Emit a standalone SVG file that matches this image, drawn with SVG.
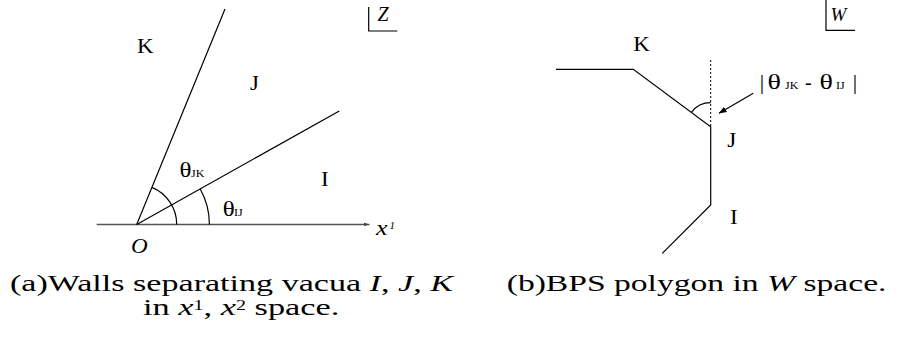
<svg xmlns="http://www.w3.org/2000/svg" width="900" height="348" viewBox="0 0 900 348">
<style>
.ln{stroke:#000;stroke-width:1.2;fill:none}
.t{font-family:"Liberation Serif","Times New Roman",serif;fill:#000}
.lbl{font-size:20px}
.th{font-size:20px}
.it{font-style:italic}
.sub{font-size:10px}
.cap{font-size:24px}
.sup{font-size:14px}
</style>
<defs>
<marker id="ah" markerWidth="8" markerHeight="6" refX="7.5" refY="3" orient="auto" markerUnits="userSpaceOnUse"><path d="M0,0 L8,3 L0,6 z" fill="#000"/></marker>
<marker id="ahg" markerWidth="6" markerHeight="4" refX="5.5" refY="2" orient="auto" markerUnits="userSpaceOnUse"><path d="M0,0.3 L6,2 L0,3.7 z" fill="#444"/></marker>
</defs>
<rect width="900" height="348" fill="#fff"/>

<g id="panel-a">
  <g id="connectors-a">
    <path d="M96.7,224.4 L369.3,224.4" stroke="#555" stroke-width="1.5" fill="none" marker-end="url(#ahg)"/>
    <path class="ln" d="M136.7,224.4 L225,9"/>
    <path class="ln" d="M136.7,224.4 L339.3,111"/>
    <path class="ln" d="M176.7,224.4 A40,40 0 0 0 151.9,187.4"/>
    <path class="ln" d="M209.4,224.4 A72.7,72.7 0 0 0 200.1,188.8"/>
    <path class="ln" d="M368.7,7 L368.7,31 L397.3,31"/>
  </g>
  <g id="label-K-a"><text class="t lbl" transform="translate(137,53) scale(1.15,1)">K</text></g>
  <g id="label-J-a"><text class="t lbl" transform="translate(250,90) scale(1.15,1)">J</text></g>
  <g id="label-I-a"><text class="t lbl" transform="translate(321,186) scale(1.15,1)">I</text></g>
  <g id="label-thetaJK"><text class="t th" transform="translate(179.5,177) scale(1.25,1)">θ</text><text class="t sub" transform="translate(191,177) scale(1.2,1)">JK</text></g>
  <g id="label-thetaIJ"><text class="t th" transform="translate(222.8,216) scale(1.25,1)">θ</text><text class="t sub" transform="translate(234,216) scale(1.2,1)">IJ</text></g>
  <g id="label-x1"><text class="t it" transform="translate(376,235) scale(1.3,1)" font-size="20">x</text><text class="t it" transform="translate(389.5,229)" font-size="11">1</text></g>
  <g id="label-O"><text class="t it" transform="translate(131,252.5) scale(1.1,1)" font-size="21">O</text></g>
  <g id="label-Z"><text class="t it" x="377.5" y="20.5" font-size="20">Z</text></g>
</g>

<g id="panel-b">
  <g id="connectors-b">
    <path class="ln" d="M556,69.3 L633.3,69.3 L710.7,126.7 L710.7,205 L662.3,253.3"/>
    <path d="M710.7,60 L710.7,126.7" stroke="#000" stroke-width="1" stroke-dasharray="2,2" fill="none"/>
    <path class="ln" d="M710.7,102.7 A24,24 0 0 0 691.4,112.4"/>
    <path class="ln" d="M753.3,93.3 L719,113.3" marker-end="url(#ah)"/>
    <path class="ln" d="M826,0 L826,30.3 L855,30.3"/>
  </g>
  <g id="label-K-b"><text class="t lbl" transform="translate(633.3,50.7) scale(1.15,1)">K</text></g>
  <g id="label-J-b"><text class="t lbl" transform="translate(727.3,146.7) scale(1.15,1)">J</text></g>
  <g id="label-I-b"><text class="t lbl" transform="translate(730,224.3) scale(1.15,1)">I</text></g>
  <g id="label-diff">
    <text class="t" x="759.8" y="89" font-size="22">|</text>
    <text class="t th" transform="translate(767.5,89) scale(1.4,1)">θ</text>
    <text class="t sub" transform="translate(785,89) scale(1.2,1)">JK</text>
    <text class="t" x="805" y="89" font-size="20">-</text>
    <text class="t th" transform="translate(819.5,89) scale(1.4,1)">θ</text>
    <text class="t sub" transform="translate(836,89) scale(1.2,1)">IJ</text>
    <text class="t" x="852.8" y="89" font-size="22">|</text>
  </g>
  <g id="label-W"><text class="t it" x="830.5" y="20.7" font-size="19">W</text></g>
</g>

<g id="captions">
  <text class="t cap" transform="translate(10,291) scale(1.42,1)">(a)Walls separating vacua <tspan class="it">I</tspan>, <tspan class="it">J</tspan>, <tspan class="it">K</tspan></text>
  <text class="t cap" transform="translate(143,315) scale(1.43,1)">in <tspan class="it">x</tspan><tspan class="sup" dy="-5.5">1</tspan><tspan dy="5.5">, </tspan><tspan class="it">x</tspan><tspan class="sup" dy="-5.5">2</tspan><tspan dy="5.5"> space.</tspan></text>
  <text class="t cap" transform="translate(506.7,291) scale(1.40,1)">(b)BPS polygon in <tspan class="it">W</tspan> space.</text>
</g>
</svg>
